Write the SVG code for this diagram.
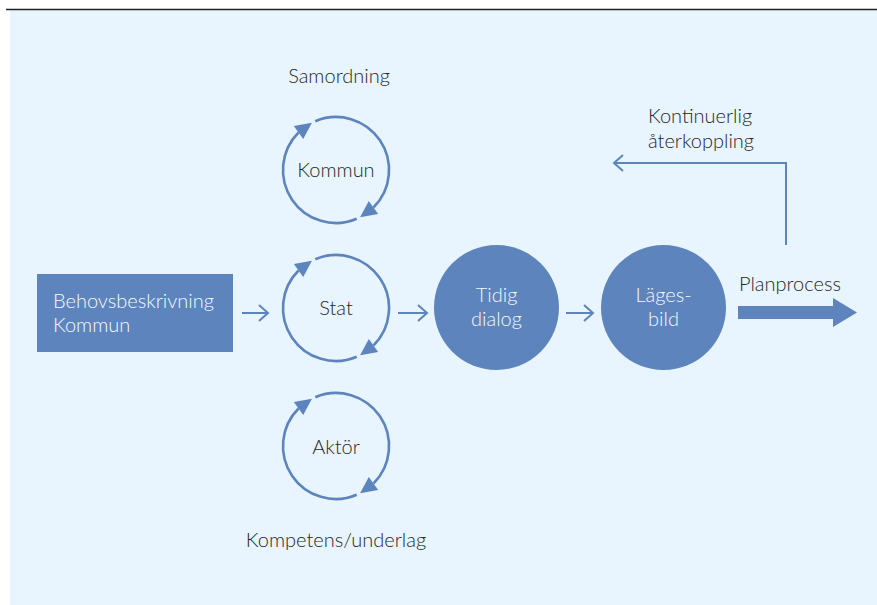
<svg xmlns="http://www.w3.org/2000/svg" xmlns:xlink="http://www.w3.org/1999/xlink" width="877" height="605" viewBox="0 0 877 605">
<style>
.bg{fill:#e8f5fe}
.topline{stroke:#222;stroke-width:1.5}
.ring{fill:none;stroke:#5d84bc;stroke-width:2.6}
.head{fill:#5d84bc}
.node{fill:#5d84bc}
.conn{fill:none;stroke:#5d84bc;stroke-width:2}
.lbl{font-family:Lato,"Open Sans","Liberation Sans",sans-serif;font-size:20px;font-weight:300;fill:#262626}
.wlbl{font-family:Lato,"Open Sans","Liberation Sans",sans-serif;font-size:20px;font-weight:300;fill:#f6f9fd}
</style>
<defs>
<marker id="open" markerUnits="userSpaceOnUse" markerWidth="20" markerHeight="20" viewBox="-10 -10 20 20" refX="0" refY="0" orient="auto">
<path d="M-9,-8 L0,0 L-9,8" fill="none" stroke="#5d84bc" stroke-width="2"/>
</marker>
<g id="half">
<path class="ring" d="M20.71,48.79 A53,53 0 0 1 -37.48,-37.48"/>
<path class="head" d="M-24.06,-47.22 L-42.18,-43.95 L-32.78,-31.01 Z"/>
</g>
<g id="cycle">
<use xlink:href="#half" href="#half"/>
<use xlink:href="#half" href="#half" transform="rotate(180)"/>
</g>
</defs>
<rect class="bg" x="10" y="10" width="867" height="595"/>
<line class="topline" x1="6" y1="9.5" x2="877" y2="9.5"/>

<g id="connectors">
<line class="conn" x1="242" y1="313" x2="268" y2="313" marker-end="url(#open)"/>
<line class="conn" x1="398" y1="313" x2="427" y2="313" marker-end="url(#open)"/>
<line class="conn" x1="566" y1="313" x2="593" y2="313" marker-end="url(#open)"/>
<polyline class="conn" points="786,245 786,163 614,163" marker-end="url(#open)"/>
<path id="planprocess-arrow" class="head" d="M738,306 L833,306 L833,298 L857,312.5 L833,327 L833,319 L738,319 Z"/>
</g>

<g id="behovsbeskrivning">
<rect class="node" x="37" y="274" width="196" height="78"/>
<text class="wlbl" x="53" y="308">Behovsbeskrivning</text>
<text class="wlbl" x="53" y="332">Kommun</text>
</g>

<g id="kommun">
<use xlink:href="#cycle" href="#cycle" transform="translate(336,170)"/>
<text class="lbl" x="336" y="177" text-anchor="middle">Kommun</text>
</g>
<g id="stat">
<use xlink:href="#cycle" href="#cycle" transform="translate(336,308)"/>
<text class="lbl" x="336" y="315" text-anchor="middle">Stat</text>
</g>
<g id="aktor">
<use xlink:href="#cycle" href="#cycle" transform="translate(336,446)"/>
<text class="lbl" x="336" y="454" text-anchor="middle">Aktör</text>
</g>

<g id="tidig-dialog">
<circle class="node" cx="496.5" cy="307.5" r="62.5"/>
<text class="wlbl" x="496.5" y="302" text-anchor="middle">Tidig</text>
<text class="wlbl" x="496.5" y="326" text-anchor="middle">dialog</text>
</g>
<g id="lagesbild">
<circle class="node" cx="663.5" cy="307.5" r="62.5"/>
<text class="wlbl" x="663.5" y="302" text-anchor="middle">Läges-</text>
<text class="wlbl" x="663.5" y="326" text-anchor="middle">bild</text>
</g>

<g id="labels">
<text class="lbl" x="339" y="83" text-anchor="middle">Samordning</text>
<text class="lbl" x="336" y="547" text-anchor="middle">Kompetens/underlag</text>
<text class="lbl" x="648" y="123">Kontinuerlig</text>
<text class="lbl" x="648" y="148">återkoppling</text>
<text class="lbl" x="739" y="291">Planprocess</text>
</g>
</svg>
